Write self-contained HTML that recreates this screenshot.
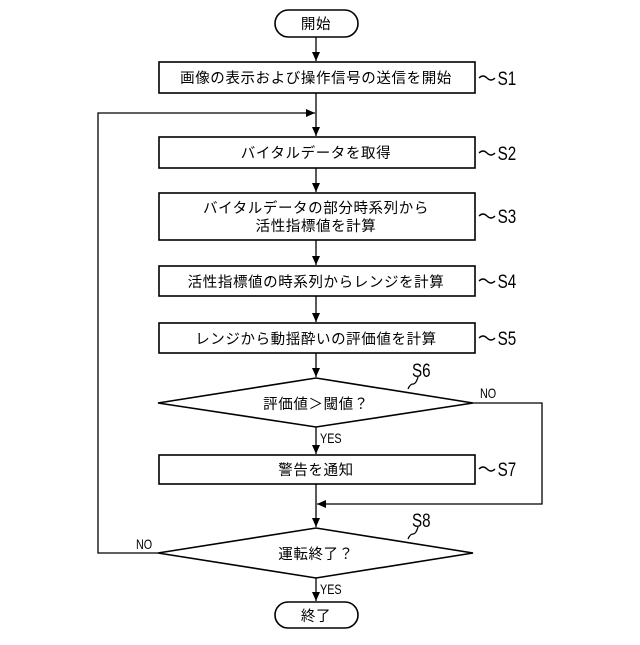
<!DOCTYPE html><html><head><meta charset="utf-8"><style>body{margin:0;background:#fff}</style></head><body>
<svg width="640" height="640" viewBox="0 0 640 640" xmlns="http://www.w3.org/2000/svg" font-family="Liberation Sans, Noto Sans CJK JP, sans-serif">
<defs><marker id="a" markerWidth="10" markerHeight="10" refX="9" refY="4" orient="auto" markerUnits="userSpaceOnUse"><path d="M0,0 L9,4 L0,8z" fill="#000"/></marker></defs>
<g fill="#fff" stroke="#000" stroke-width="1.6">
<rect x="275" y="10" width="83" height="27" rx="13.5"/>
<rect x="159" y="62" width="316" height="31"/>
<rect x="159" y="137" width="316" height="31"/>
<rect x="159" y="193" width="316" height="47"/>
<rect x="159" y="266" width="316" height="30"/>
<rect x="159" y="323" width="316" height="30"/>
<polygon points="158,403 316,378 473,403 316,427"/>
<rect x="159" y="455" width="316" height="29"/>
<polygon points="158,553 316,528 473,553 316,578"/>
<rect x="275" y="602" width="83" height="26" rx="13"/>
</g>
<g stroke="#000" stroke-width="1.3" fill="none">
<line x1="316" y1="37" x2="316" y2="61" marker-end="url(#a)"/>
<line x1="316" y1="93" x2="316" y2="136" marker-end="url(#a)"/>
<line x1="316" y1="168" x2="316" y2="192" marker-end="url(#a)"/>
<line x1="316" y1="240" x2="316" y2="265" marker-end="url(#a)"/>
<line x1="316" y1="296" x2="316" y2="322" marker-end="url(#a)"/>
<line x1="316" y1="353" x2="316" y2="377" marker-end="url(#a)"/>
<line x1="316" y1="427" x2="316" y2="454" marker-end="url(#a)"/>
<line x1="316" y1="484" x2="316" y2="527" marker-end="url(#a)"/>
<line x1="316" y1="578" x2="316" y2="601" marker-end="url(#a)"/>
<polyline points="473,403 542,403 542,504 317,504" marker-end="url(#a)"/>
<polyline points="158,553 98,553 98,113 315,113" marker-end="url(#a)"/>
<path d="M479,78 q4,-4 8,0 t8,0"/>
<path d="M479,153 q4,-4 8,0 t8,0"/>
<path d="M479,216 q4,-4 8,0 t8,0"/>
<path d="M479,281 q4,-4 8,0 t8,0"/>
<path d="M479,338 q4,-4 8,0 t8,0"/>
<path d="M479,469 q4,-4 8,0 t8,0"/>
<path d="M408,389 q2,-5 5,-5 t5,-7"/>
<path d="M408,539 q2,-5 5,-5 t5,-7"/>
</g>
<g font-size="14.5" text-anchor="middle" fill="#000" letter-spacing="0.6">
<text x="316" y="29">開始</text>
<text x="316" y="83">画像の表示および操作信号の送信を開始</text>
<text x="316" y="158">バイタルデータを取得</text>
<text x="316" y="213">バイタルデータの部分時系列から</text>
<text x="316" y="231">活性指標値を計算</text>
<text x="316" y="287">活性指標値の時系列からレンジを計算</text>
<text x="316" y="344">レンジから動揺酔いの評価値を計算</text>
<text x="316" y="409">評価値＞閾値？</text>
<text x="316" y="475">警告を通知</text>
<text x="316" y="559">運転終了？</text>
<text x="316" y="621">終了</text>
</g>
<g font-size="19" fill="#000" transform="scale(0.8,1)">
<text x="622" y="85">S1</text><text x="622" y="160">S2</text><text x="622" y="223">S3</text>
<text x="622" y="288">S4</text><text x="622" y="345">S5</text><text x="622" y="476">S7</text>
<text x="515" y="377">S6</text><text x="515" y="527">S8</text>
</g>
<g font-size="13.5" fill="#000" transform="scale(0.8,1)">
<text x="600" y="398">NO</text><text x="170" y="549">NO</text>
<text x="400" y="443">YES</text><text x="400" y="594">YES</text>
</g>
</svg></body></html>
